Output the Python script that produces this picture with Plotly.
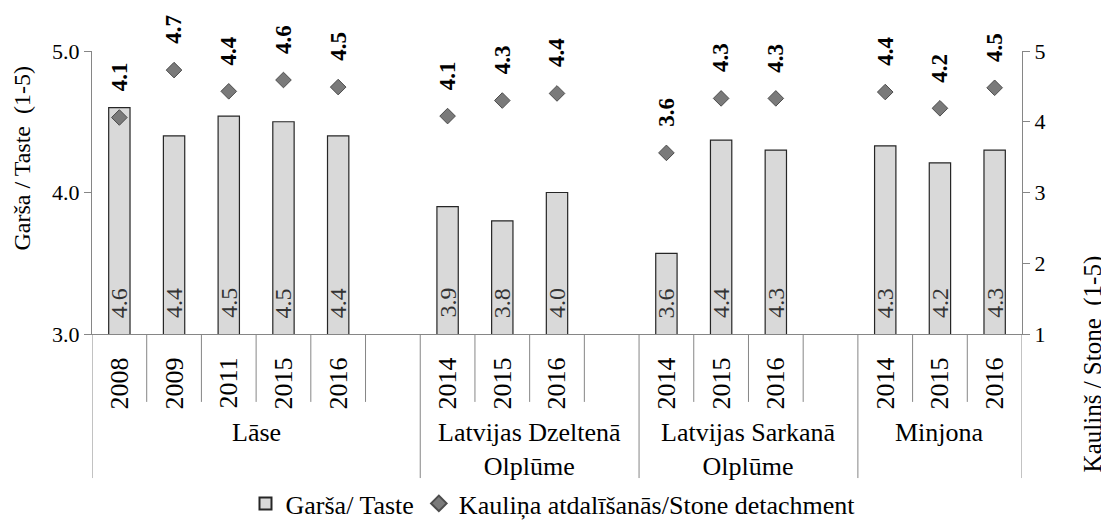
import plotly.graph_objects as go

groups = ["Lāse", "Latvijas Dzeltenā<br>Olplūme", "Latvijas Sarkanā<br>Olplūme", "Minjona"]
group_years = [
    ["2008", "2009", "2011", "2015", "2016"],
    ["2014", "2015", "2016"],
    ["2014", "2015", "2016"],
    ["2014", "2015", "2016"],
]
taste = [
    [4.60, 4.40, 4.54, 4.50, 4.40],
    [3.90, 3.80, 4.00],
    [3.57, 4.37, 4.30],
    [4.33, 4.21, 4.30],
]
stone = [
    [4.06, 4.73, 4.43, 4.59, 4.49],
    [4.08, 4.30, 4.40],
    [3.56, 4.33, 4.33],
    [4.42, 4.19, 4.48],
]

FONT = "Liberation Serif"
AX = "#868686"

# build slot positions (a blank slot after every group except the last)
xs, years, tvals, svals = [], [], [], []
group_spans = []
pos = 0
for gi, yrs in enumerate(group_years):
    start = pos
    for j, y in enumerate(yrs):
        xs.append(pos)
        years.append(y)
        tvals.append(taste[gi][j])
        svals.append(stone[gi][j])
        pos += 1
    if gi < len(group_years) - 1:
        pos += 1
    group_spans.append((start, pos))
nslots = pos

fig = go.Figure()
fig.add_trace(go.Bar(
    x=xs, y=tvals, width=0.39,
    marker=dict(color="#d9d9d9", line=dict(color="#262626", width=1.2)),
    name="Garša/ Taste", yaxis="y",
))
fig.add_trace(go.Scatter(
    x=xs, y=svals, mode="markers", yaxis="y2",
    marker=dict(symbol="diamond", size=12, color="#7a7a7a",
                line=dict(color="#4d4d4d", width=1)),
    name="Kauliņa atdalīšanās/Stone detachment",
))

annotations = []
for x, t, s in zip(xs, tvals, svals):
    annotations.append(dict(
        x=x, y=3.0, xref="x", yref="y", text=f"{t:.1f}", showarrow=False,
        textangle=-90, yanchor="bottom", yshift=14,
        font=dict(family=FONT, size=24, color="#333333")))
    annotations.append(dict(
        x=x, y=s, xref="x", yref="y2", text=f"<b>{s:.1f}</b>", showarrow=False,
        textangle=-90, yanchor="bottom", yshift=24,
        font=dict(family=FONT, size=23, color="#000000")))

shapes = []
for k in range(nslots + 1):
    bx = k - 0.5
    long_line = any(bx == a - 0.5 for a, b in group_spans) or k == nslots
    shapes.append(dict(type="line", xref="x", yref="paper", x0=bx, x1=bx,
                       y0=0, y1=-0.509 if long_line else -0.24,
                       line=dict(color=AX, width=1)))

for g, (a, b) in zip(groups, group_spans):
    annotations.append(dict(
        x=(a + b - 1) / 2, y=-0.29, xref="x", yref="paper", text=g,
        showarrow=False, yanchor="top",
        font=dict(family=FONT, size=26, color="#000000")))

annotations.append(dict(
    x=-0.0753, y=0.62, xref="paper", yref="paper", text="Garša / Taste  (1-5)",
    showarrow=False, textangle=-90, xanchor="center", yanchor="middle",
    font=dict(family=FONT, size=24, color="#000")))
annotations.append(dict(
    x=1.076, y=-0.105, xref="paper", yref="paper", text="Kauliņš / Stone  (1-5)",
    showarrow=False, textangle=-90, xanchor="center", yanchor="middle",
    font=dict(family=FONT, size=25, color="#000")))

fig.update_layout(
    width=1101, height=519,
    margin=dict(l=84, r=87, t=43, b=193),
    paper_bgcolor="white", plot_bgcolor="white",
    font=dict(family=FONT, size=22, color="#000"),
    showlegend=True,
    legend=dict(orientation="h", xref="container", yref="container",
                x=0.495, y=0.0, xanchor="center", yanchor="bottom",
                font=dict(family=FONT, size=26), itemsizing="constant",
                tracegroupgap=0),
    xaxis=dict(range=[-0.5, nslots - 0.5], tickvals=xs, ticktext=years,
               tickangle=-90, ticks="", showgrid=False, zeroline=False,
               showline=True, linecolor=AX, linewidth=1,
               tickfont=dict(family=FONT, size=26), ticklabelstandoff=12),
    yaxis=dict(range=[3, 5], dtick=1, tickformat=".1f", showgrid=False,
               zeroline=False, showline=True, linecolor=AX, ticks="outside",
               tickcolor=AX, ticklen=7, tickfont=dict(family=FONT, size=22)),
    yaxis2=dict(range=[1, 5], dtick=1, overlaying="y", side="right",
                showgrid=False, zeroline=False, showline=True, linecolor=AX,
                ticks="outside", tickcolor=AX, ticklen=7,
                tickfont=dict(family=FONT, size=22)),
    annotations=annotations, shapes=shapes,
)

fig.write_html("out.html")
